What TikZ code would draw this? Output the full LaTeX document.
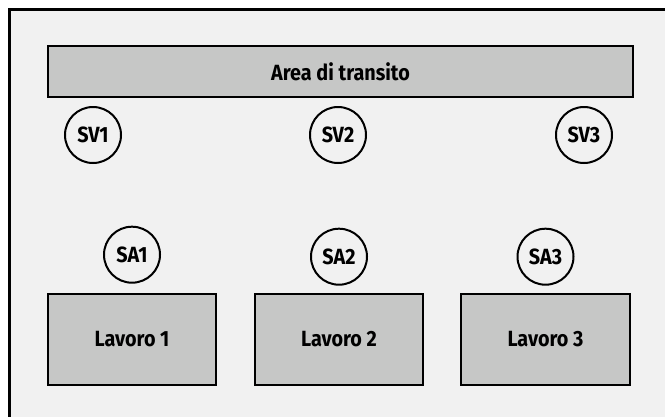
\documentclass[tikz,border=0pt]{standalone}
\usepackage{fontspec}
\setmainfont{Fira Sans}[FakeStretch=0.9]
\usetikzlibrary{positioning}
\definecolor{roombg}{RGB}{241,241,241}
\definecolor{zonefill}{RGB}{198,199,198}

\begin{document}
\begin{tikzpicture}[
  x=1pt,y=-1pt,
  node distance=9pt,
  zone/.style={draw,line width=2.6pt,fill=zonefill,inner sep=0pt,font=\bfseries\fontsize{22}{24}\selectfont},
  spot/.style={draw,circle,line width=2pt,fill=roombg,minimum size=56pt,inner sep=0pt,font=\bfseries\fontsize{22}{24}\selectfont},
  wall/.style={draw,line width=3pt,fill=roombg}
]
\useasboundingbox (0,0) rectangle (665,416);
\fill[white] (0,0) rectangle (665,416);
% ---------- room ----------
\draw[wall] (9,9) rectangle (690,440);
% ---------- transit area and its stops ----------
\node[zone,minimum width=585pt,minimum height=51pt] (transito) at (340.5,71.5) {Area di transito};
\node[spot] (sv1) at (93,135) {SV1};
\node[spot] (sv2) at (338,135) {SV2};
\node[spot] (sv3) at (584,135) {SV3};
% ---------- work places ----------
\node[zone,minimum width=168pt,minimum height=91pt] (lav1) at (132,339.5) {Lavoro 1};
\node[zone,minimum width=168pt,minimum height=91pt] (lav2) at (339,339.5) {Lavoro 2};
\node[zone,minimum width=169pt,minimum height=91pt] (lav3) at (545.5,339.5) {Lavoro 3};
\node[spot,above=of lav1] (sa1) {SA1};
\node[spot,above=of lav2,yshift=-2pt] (sa2) {SA2};
\node[spot,above=of lav3,yshift=-2pt] (sa3) {SA3};
\end{tikzpicture}
\end{document}
